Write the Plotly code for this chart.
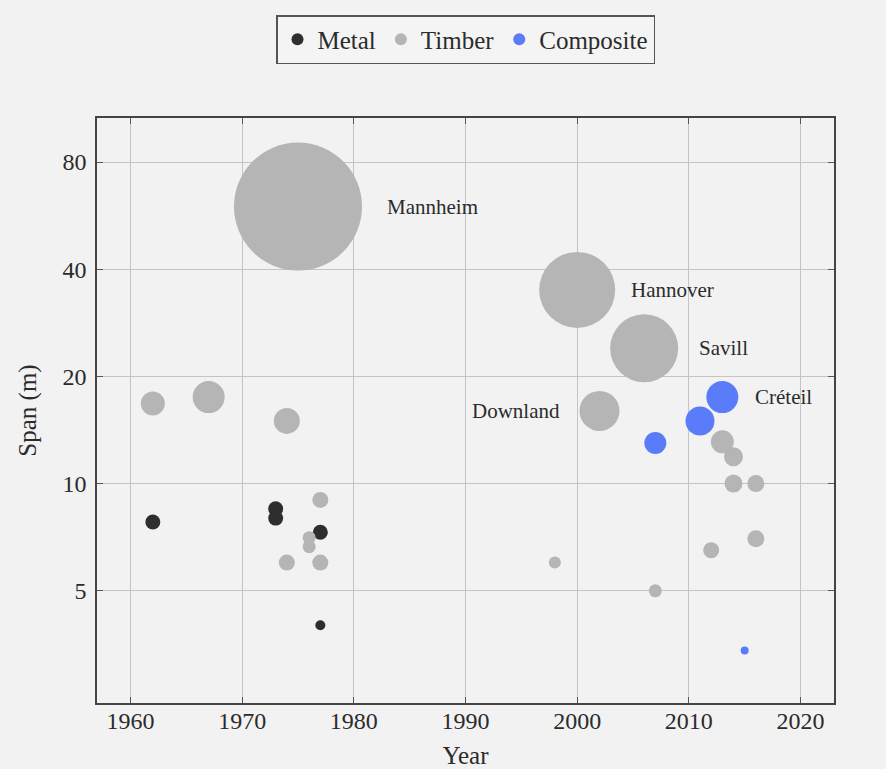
import numpy as np
import plotly.graph_objects as go

# --- span of pedestrian / roof structures by year, bubble = relative size ---
metal_year = [1962, 1973, 1973, 1977, 1977]
metal_span = [7.8, 8.5, 8.0, 7.3, 4.0]
metal_size = [15, 15, 15, 15, 10]

timber_year = [1962, 1967, 1974, 1975, 1976, 1976, 1974, 1977, 1977, 1998,
               2000, 2002, 2006, 2007, 2012, 2013, 2014, 2014, 2016, 2016]
timber_span = [16.8, 17.5, 15.0, 60.0, 7.05, 6.65, 6.0, 6.0, 9.0, 6.0,
               35.0, 16.0, 24.0, 5.0, 6.5, 13.1, 11.9, 10.0, 10.0, 7.0]
timber_size = [24, 32, 26, 128, 13, 13, 16, 16, 16, 12,
               76, 40, 68, 13, 16, 23, 19, 18, 17, 17]

composite_year = [2007, 2011, 2013, 2015]
composite_span = [13.0, 15.0, 17.5, 3.4]
composite_size = [22, 29, 32, 8]

# named structures: (name, year, span)
named = [
    ("Mannheim", 1975, 60.0),
    ("Hannover", 2000, 35.0),
    ("Savill", 2006, 24.0),
    ("Downland", 2002, 16.0),
    ("Créteil", 2013, 17.5),
]

x_ticks = [1960, 1970, 1980, 1990, 2000, 2010, 2020]
y_ticks = [5, 10, 20, 40, 80]

FONT = "Liberation Serif"
BG = "#f2f2f2"
INK = "#2b2b2b"

fig = go.Figure()

series = [
    ("Metal", metal_year, metal_span, metal_size, "#2e2e2e"),
    ("Timber", timber_year, timber_span, timber_size, "#b5b5b5"),
    ("Composite", composite_year, composite_span, composite_size, "#5a7cf8"),
]
for name, xs, ys, ss, col in series:
    fig.add_trace(go.Scatter(
        x=xs, y=ys, mode="markers", name=name,
        marker=dict(size=ss, sizemode="diameter", color=col, opacity=1,
                    line=dict(width=0)),
        hoverinfo="x+y+name",
    ))

# label placement (pixel offsets from the bubble centre)
offsets = {"Mannheim": (87, "left"), "Hannover": (52, "left"),
           "Savill": (53, "left"), "Downland": (-38, "right"),
           "Créteil": (31, "left")}
for name, yr, sp in named:
    dx, anchor = offsets[name]
    fig.add_annotation(
        x=yr, y=np.log10(sp), text=name, showarrow=False,
        xanchor=anchor, yanchor="middle", xshift=dx,
        font=dict(family=FONT, size=21, color=INK),
    )

axis_common = dict(
    showline=True, linecolor="#444444", linewidth=1.5, mirror="allticks",
    showgrid=True, gridcolor="#c4c4c4", gridwidth=1,
    ticks="inside", ticklen=6, tickcolor="#555555", tickwidth=1,
    zeroline=False,
    tickfont=dict(family=FONT, size=24, color=INK),
)

fig.update_xaxes(
    range=[1957, 2023], tickvals=x_ticks,
    ticktext=[str(v) for v in x_ticks],
    title=dict(text="Year", font=dict(family=FONT, size=25, color=INK),
               standoff=16),
    ticklabelstandoff=-5,
    **axis_common,
)
fig.update_yaxes(
    type="log", range=[np.log10(2.42), np.log10(106.4)],
    tickvals=y_ticks, ticktext=[str(v) for v in y_ticks],
    title=dict(text="Span (m)", font=dict(family=FONT, size=25, color=INK),
               standoff=19),
    ticklabelstandoff=4,
    **axis_common,
)

fig.update_layout(
    width=886, height=769,
    margin=dict(l=97, r=52, t=118, b=66, autoexpand=False),
    paper_bgcolor=BG, plot_bgcolor=BG,
    showlegend=True,
    legend=dict(
        orientation="h", x=0.5, xanchor="center", y=1.176, yanchor="top",
        bgcolor="#f4f4f4", bordercolor="#555555", borderwidth=1.5,
        font=dict(family=FONT, size=25, color=INK),
        itemsizing="constant", traceorder="normal",
    ),
)

fig.write_html("out.html")
